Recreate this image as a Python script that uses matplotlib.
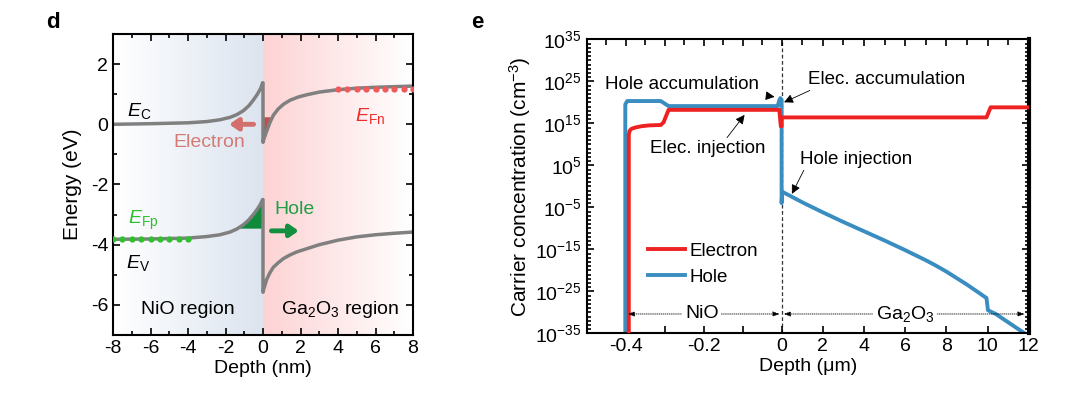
import numpy as np
import matplotlib
matplotlib.use("Agg")
from matplotlib import pyplot as plt
from matplotlib.ticker import FixedLocator, NullFormatter

plt.rcParams['font.family'] = ['Liberation Sans', 'DejaVu Sans']
plt.rcParams['mathtext.fontset'] = 'custom'
plt.rcParams['mathtext.rm'] = 'Liberation Sans'
plt.rcParams['mathtext.it'] = 'Liberation Sans:italic'
plt.rcParams['mathtext.default'] = 'regular'
plt.rcParams['axes.unicode_minus'] = False

# ---- panel d: band diagram ----
ec_x = [-8, -6, -4, -3, -2.3, -1.76, -1.4, -1.05, -0.75, -0.52, -0.3, -0.12, -0.02, 0, 0,
        0.05, 0.2, 0.37, 0.55, 0.81, 1.1, 1.44, 1.9, 2.33, 3, 4, 5, 6, 7, 8]
ec_y = [0.0, 0.02, 0.05, 0.09, 0.15, 0.23, 0.32, 0.45, 0.62, 0.8, 1.0, 1.2, 1.38, 1.38, -0.6,
        -0.48, -0.22, 0.06, 0.3, 0.51, 0.67, 0.8, 0.91, 0.98, 1.07, 1.15, 1.2, 1.23, 1.25, 1.27]
ev_x = [-8, -6, -4, -3, -2.3, -1.76, -1.4, -1.05, -0.75, -0.52, -0.3, -0.12, -0.02, 0, 0,
        0.05, 0.2, 0.37, 0.55, 0.81, 1.09, 1.44, 1.8, 2.5, 3, 4, 5, 6, 7, 8]
ev_y = [-3.82, -3.81, -3.78, -3.73, -3.67, -3.58, -3.48, -3.34, -3.17, -3.0, -2.82, -2.64, -2.5, -2.5, -5.58,
        -5.45, -5.15, -4.93, -4.75, -4.6, -4.46, -4.34, -4.24, -4.1, -4.0, -3.85, -3.74, -3.67, -3.62, -3.58]
efn_x = [4, 4.5, 5, 5.5, 6, 6.5, 7, 7.5, 8]
efn_y = [1.16] * 9
efp_x = [-8, -7.5, -7, -6.5, -6, -5.5, -5, -4.5, -4]
efp_y = [-3.82] * 9
elec_fill_level = 0.25
hole_fill_level = -3.45

# ---- panel e: carrier concentration (log10 cm^-3) ----
n_x = [-0.392, -0.392, -0.39, -0.385, -0.375, -0.36, -0.34, -0.31, -0.303, -0.29, -0.2, -0.1, -0.006, -0.002, 0,
       0, 2, 4, 6, 8, 9.95, 10.15, 11, 12]
n_log = [-40, 12.3, 13.2, 13.7, 14.0, 14.3, 14.5, 14.6, 15.2, 18.2, 18.2, 18.2, 18.2, 14.3, 14.3,
         16.4, 16.4, 16.4, 16.4, 16.4, 16.4, 18.8, 18.8, 18.8]
p_x = [-0.401, -0.401, -0.396, -0.37, -0.34, -0.31, -0.29, -0.2, -0.1, -0.01, -0.006, -0.003, 0,
       0, 0.03, 0.5, 1, 2, 3, 4, 5, 6, 7, 7.5, 8, 9, 9.95, 10.02, 10.4, 11.8]
p_log = [-40, 19.5, 20.3, 20.3, 20.3, 20.3, 19.1, 19.1, 19.1, 19.1, 20.5, 21.0, 20.5,
         -4.0, -1.3, -2.5, -3.8, -6.2, -8.5, -10.7, -12.9, -15.2, -17.6, -18.9, -20.3, -23.4, -26.6, -29.5, -30.4, -35.0]
maj_x = [-0.4, -0.3, -0.2, -0.1, 0, 2, 4, 6, 8, 10, 12]
maj_lab = ['-0.4', '', '-0.2', '', '0', '2', '4', '6', '8', '10', '12']

fig = plt.figure(figsize=(10.8, 3.97), dpi=100)

# ================= panel d =================
ax = fig.add_axes([113/1080, 62/397, 300/1080, 301/397])
ax.set_xlim(-8, 8)
ax.set_ylim(-7, 3)
g = np.linspace(0, 1, 256)
blue0 = np.array([1, 1, 1]); blue1 = np.array([0xdc, 0xe4, 0xef]) / 255
pink0 = np.array([0xfd, 0xd3, 0xd4]) / 255; pink1 = np.array([1, 1, 1])
left_img = (blue0[None, :] * (1 - g[:, None]) + blue1[None, :] * g[:, None])[None, :, :]
right_img = (pink0[None, :] * (1 - g[:, None]) + pink1[None, :] * g[:, None])[None, :, :]
ax.imshow(left_img, extent=[-8, 0, -7, 3], aspect='auto', zorder=0)
ax.imshow(right_img, extent=[0, 8, -7, 3], aspect='auto', zorder=0)

ecx = np.array(ec_x); ecy = np.array(ec_y)
evx = np.array(ev_x); evy = np.array(ev_y)
m = (ecx >= 0) & (ecy <= elec_fill_level) & (np.arange(len(ecx)) > 13)
ax.fill_between(ecx[m], ecy[m], elec_fill_level, color='#c0504d', lw=0, zorder=1)
m2 = (evx <= 0) & (evy >= hole_fill_level) & (np.arange(len(evx)) <= 13)
ax.fill_between(np.r_[-1.45, evx[m2]], np.r_[hole_fill_level, evy[m2]], hole_fill_level,
                color='#0f8a3a', lw=0, zorder=1)

ax.plot(ec_x, ec_y, color='#808080', lw=2.5, zorder=2)
ax.plot(ev_x, ev_y, color='#808080', lw=2.5, zorder=2)
ax.plot(efn_x, efn_y, 'o', color='#f05a5a', ms=4.5, mec='none', zorder=3)
ax.plot(efp_x, efp_y, 'o', color='#2ec02e', ms=4.5, mec='none', zorder=3)

ax.annotate('', xy=(-1.8, 0.0), xytext=(-0.5, 0.0),
            arrowprops=dict(arrowstyle='-|>,head_length=0.5,head_width=0.35', color='#d4706b', lw=3.5,
                            shrinkA=0, shrinkB=0))
ax.text(-2.85, -0.62, 'Electron', color='#d47a75', fontsize=14, ha='center', va='center')
ax.annotate('', xy=(1.9, -3.54), xytext=(0.45, -3.54),
            arrowprops=dict(arrowstyle='-|>,head_length=0.5,head_width=0.35', color='#129040', lw=3.5,
                            shrinkA=0, shrinkB=0))
ax.text(1.7, -2.83, 'Hole', color='#1e9e45', fontsize=14, ha='center', va='center')
ax.text(-6.6, 0.45, '$\\mathit{E}_\\mathrm{C}$', fontsize=14, ha='center', va='center')
ax.text(-6.65, -4.6, '$\\mathit{E}_\\mathrm{V}$', fontsize=14, ha='center', va='center')
ax.text(-6.4, -3.2, '$\\mathit{E}_\\mathrm{Fp}$', fontsize=14, color='#2ec02e', ha='center', va='center')
ax.text(5.7, 0.28, '$\\mathit{E}_\\mathrm{Fn}$', fontsize=14, color='#ee2a2a', ha='center', va='center')
ax.text(-4.0, -6.15, 'NiO region', fontsize=14, ha='center', va='center')
ax.text(4.1, -6.15, 'Ga$_2$O$_3$ region', fontsize=14, ha='center', va='center')

ax.set_xticks(np.arange(-8, 9, 2))
ax.set_xticks(np.arange(-8, 9, 1), minor=True)
ax.set_yticks([-6, -4, -2, 0, 2])
ax.set_yticks(np.arange(-7, 4, 1), minor=True)
ax.tick_params(which='both', direction='in', top=True, right=True, labelsize=14, width=1.2)
ax.tick_params(which='major', length=5)
ax.tick_params(which='minor', length=3)
for s in ax.spines.values():
    s.set_linewidth(1.5)
ax.set_xlabel('Depth (nm)', fontsize=14, labelpad=2)
ax.set_ylabel('Energy (eV)', fontsize=15, labelpad=6)
fig.text(53/1080, 1 - 22/397, 'd', fontsize=16, fontweight='bold', ha='center', va='center')

# ================= panel e =================
K = 18.93


def fwd(x):
    x = np.asarray(x, dtype=float)
    return np.where(x < 0, x * K, x)


def inv(u):
    u = np.asarray(u, dtype=float)
    return np.where(u < 0, u / K, u)


bx = fig.add_axes([586.7/1080, 63.7/397, 442/1080, 294/397])
bx.set_xscale('function', functions=(fwd, inv))
bx.set_yscale('log')
bx.set_xlim(-0.5, 12)
bx.set_ylim(1e-35, 1e35)

bx.plot(n_x, 10.0 ** np.array(n_log), color='#ee2222', lw=2.8, label='Electron', zorder=3)
bx.plot(p_x, 10.0 ** np.array(p_log), color='#3a8dc0', lw=2.8, label='Hole', zorder=2)
bx.axvline(0, color='#333333', lw=0.9, ls=(0, (3, 2)), zorder=1)

bx.xaxis.set_major_locator(FixedLocator(maj_x))
bx.set_xticklabels(maj_lab)
bx.xaxis.set_minor_locator(FixedLocator([-0.45, -0.35, -0.25, -0.15, -0.05, 1, 3, 5, 7, 9, 11]))
bx.yaxis.set_major_locator(FixedLocator(10.0 ** np.arange(-35, 36, 10)))
bx.yaxis.set_minor_locator(FixedLocator(10.0 ** np.arange(-35, 36, 1)))
bx.yaxis.set_minor_formatter(NullFormatter())
bx.tick_params(which='both', direction='in', top=True, right=True, labelsize=14, width=1.2)
bx.tick_params(which='major', length=5)
bx.tick_params(axis='x', which='minor', length=4, bottom=False)
bx.tick_params(axis='y', which='minor', length=3)
for s in bx.spines.values():
    s.set_linewidth(1.5)
bx.spines['right'].set_linewidth(3)
bx.set_xlabel('Depth (\u03bcm)', fontsize=14, labelpad=2)
bx.set_ylabel('Carrier concentration (cm$^{-3}$)', fontsize=15, labelpad=2)

bx.legend(loc='upper left', bbox_to_anchor=(0.1, 0.365), frameon=False, fontsize=13.5,
          handlelength=2.0, handletextpad=0.2, labelspacing=0.45)

aprops = dict(arrowstyle='-|>,head_length=0.4,head_width=0.2', color='black', lw=0.6)
bx.annotate('Hole accumulation', xy=(-0.018, 10 ** 21.3), xytext=(-0.255, 10 ** 24.2),
            fontsize=13.5, ha='center', va='center',
            arrowprops=dict(aprops, shrinkA=8, shrinkB=0))
bx.annotate('Elec. accumulation', xy=(0.12, 10 ** 20.0), xytext=(5.1, 10 ** 25.5),
            fontsize=13.5, ha='center', va='center',
            arrowprops=dict(aprops, shrinkA=0, shrinkB=0, relpos=(0.05, 0.0)))
bx.annotate('Elec. injection', xy=(-0.095, 10 ** 17.0), xytext=(-0.19, 10 ** 8.9),
            fontsize=13.5, ha='center', va='center',
            arrowprops=dict(aprops, shrinkA=0, shrinkB=0, relpos=(0.65, 1.0)))
bx.annotate('Hole injection', xy=(0.5, 10 ** -1.8), xytext=(3.6, 10 ** 6.5),
            fontsize=13.5, ha='center', va='center',
            arrowprops=dict(aprops, shrinkA=0, shrinkB=0, relpos=(0.05, 0.0)))

dprops = dict(arrowstyle='<|-|>,head_length=0.4,head_width=0.15', color='black', lw=0.6,
              linestyle=(0, (1, 1.5)), shrinkA=0, shrinkB=0)
yarr = 10 ** -30.4
bx.annotate('', xy=(-0.395, yarr), xytext=(-0.005, yarr), arrowprops=dprops)
bx.annotate('', xy=(0.1, yarr), xytext=(11.8, yarr), arrowprops=dprops)
bx.text(-0.205, yarr, 'NiO', fontsize=14, ha='center', va='center',
        bbox=dict(fc='white', ec='none', pad=2))
bx.text(6.0, yarr, 'Ga$_2$O$_3$', fontsize=14, ha='center', va='center',
        bbox=dict(fc='white', ec='none', pad=2))
fig.text(477/1080, 1 - 22/397, 'e', fontsize=16, fontweight='bold', ha='center', va='center')

fig.savefig('out.png', dpi=100)
